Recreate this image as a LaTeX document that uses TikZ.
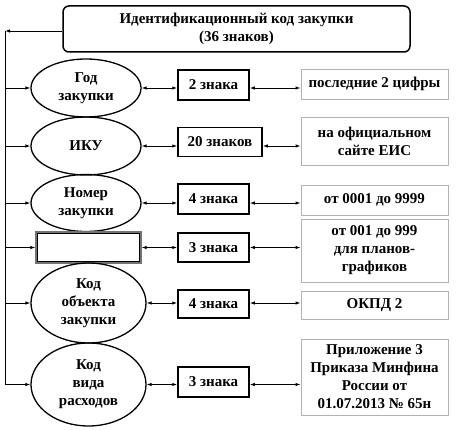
\documentclass[tikz,border=0pt]{standalone}
\usepackage{fontspec}
\setmainfont{Liberation Serif}
\usetikzlibrary{shapes.geometric,arrows.meta}
\tikzset{
  txt/.style={font=\bfseries\fontsize{15}{18}\selectfont, align=center, inner sep=0pt},
  oval/.style={txt, ellipse, draw, line width=1.3pt},
  midbox/.style={txt, rectangle, draw, line width=1.5pt},
  infobox/.style={txt, rectangle, draw=black!30, line width=0.9pt},
  conn/.style={line width=0.9pt, {Latex[length=5pt,width=3.5pt]}-{Latex[length=5pt,width=3.5pt]}},
  feed/.style={line width=0.9pt, -{Latex[length=5pt,width=3.5pt]}},
}
\begin{document}
\begin{tikzpicture}[x=1pt,y=-1pt]
\useasboundingbox (0,0) rectangle (474,430);
\node[txt, draw, line width=1.5pt, rounded corners=6pt, minimum width=347pt, minimum height=46pt] (top) at (236.5,29) {Идентификационный код закупки\\(36 знаков)};
\coordinate (L) at (5,31);
% row 1
\node[oval, minimum width=110pt, minimum height=58pt] (e1) at (86,88) {Год\\закупки};
\node[midbox, minimum width=71pt, minimum height=30pt] (m1) at (213.5,85) {2 знака};
\node[infobox, minimum width=147pt, minimum height=30pt] (r1) at (374.5,84) {последние 2 цифры};
% row 2
\node[oval, minimum width=110pt, minimum height=58pt] (e2) at (86,146) {ИКУ};
\node[midbox, minimum width=84pt, minimum height=29pt] (m2) at (220,142) {20 знаков};
\node[infobox, minimum width=147pt, minimum height=48pt] (r2) at (374.5,141) {на официальном\\сайте ЕИС};
% row 3
\node[oval, minimum width=110pt, minimum height=57pt] (e3) at (86,203) {Номер\\закупки};
\node[midbox, minimum width=71pt, minimum height=30pt] (m3) at (213.5,199) {4 знака};
\node[infobox, minimum width=147pt, minimum height=30pt] (r3) at (374.5,200) {от 0001 до 9999};
% row 4
\node[rectangle, draw=black!55, line width=1.3pt, minimum width=105pt, minimum height=31pt] (e4) at (88.5,247.5) {};
\draw[line width=1pt] ([shift={(2.5,2.5)}]e4.north west) rectangle ([shift={(-2.5,-2.5)}]e4.south east);
\node[midbox, minimum width=71pt, minimum height=29pt] (m4) at (213.5,247.5) {3 знака};
\node[infobox, minimum width=147pt, minimum height=63pt] (r4) at (374.5,250.5) {от 001 до 999\\для планов-\\графиков};
% row 5
\node[oval, minimum width=115pt, minimum height=80pt] (e5) at (88.5,303) {Код\\объекта\\закупки};
\node[midbox, minimum width=71pt, minimum height=28pt] (m5) at (213.5,304) {4 знака};
\node[infobox, minimum width=147pt, minimum height=28pt] (r5) at (374.5,305) {ОКПД 2};
% row 6
\node[oval, minimum width=115pt, minimum height=83pt] (e6) at (88.5,384.5) {Код\\вида\\расходов};
\node[midbox, minimum width=71pt, minimum height=30pt] (m6) at (213.5,382) {3 знака};
\node[infobox, minimum width=147pt, minimum height=76pt] (r6) at (374.5,377) {Приложение 3\\Приказа Минфина\\России от\\01.07.2013 № 65н};
% trunk
\draw[feed] (top.west |- L) -- (L);
\draw[line width=1pt] (L) -- (L |- e6.west);
\foreach \e in {e1,e2,e3,e4,e5,e6} {
  \draw[feed] (L |- \e.west) -- (\e.west);
}
\foreach \e/\m/\r in {e1/m1/r1,e2/m2/r2,e3/m3/r3,e4/m4/r4,e5/m5/r5,e6/m6/r6} {
  \draw[conn] (\e.east) -- (\e.east -| \m.west);
  \draw[conn] (\m.east |- \e.east) -- (\e.east -| \r.west);
}
\end{tikzpicture}
\end{document}
